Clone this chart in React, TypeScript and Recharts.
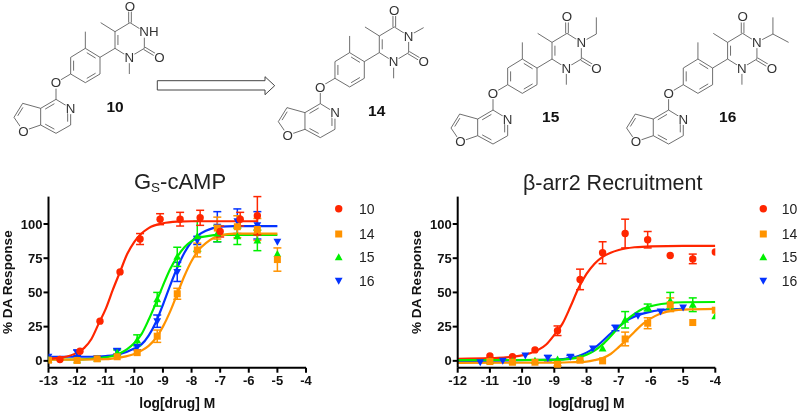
import React from "react";
import { ComposedChart, Line, Scatter, ErrorBar, XAxis, YAxis, Legend } from "recharts";

const FONT = "'Liberation Sans', Arial, sans-serif";
const RED = "#ff2600", ORANGE = "#ff9300", GREEN = "#00f000", BLUE = "#0433ff";

const seriesNames = ["10", "14", "15", "16"];
const yTicks = [0, 25, 50, 75, 100];
const leftXTicks = [-13, -12, -11, -10, -9, -8, -7, -6, -5, -4];
const rightXTicks = [-12, -11, -10, -9, -8, -7, -6, -5, -4];

// ---- Gs-cAMP: measured points
const gs10X = [-12.6, -11.9, -11.2, -10.5, -9.8, -9.1, -8.4, -7.7, -7.0, -6.3, -5.7];
const gs10Y = [1, 7, 29, 65, 89, 103.5, 103.5, 104.5, 94.5, 103.5, 106];
const gs10E = [null, null, null, null, 4, 4, 5, 5.5, 4, 5, 14];
const gsOtherX = [-13, -12, -11.3, -10.6, -9.9, -9.2, -8.5, -7.8, -7.1, -6.4, -5.7, -5];
const gs14Y = [0.5, 0.3, 1.5, 3, 6, 18, 49, 81, 97, 98, 96, 74];
const gs14E = [null, null, null, null, null, 4.5, 4, 5, 8, 8, 8, 8.5];
const gs15Y = [1, 0.5, 1.5, 6, 15, 45, 76, 91, 93, 91, 88, 78];
const gs15E = [null, null, null, 2, 4, 5, 7, 11, 6, 6, 7.5, null];
const gs16Y = [3, 6, 2, 7, 10, 29, 65, 88, 98, 102, 99, 87];
const gs16E = [null, 2, null, 2, 2, 4.5, 7, 3, 11, 9, 10, null];

// ---- Gs-cAMP: fitted curves
const gs10CurveX = [-13, -12.5, -12, -11.75, -11.5, -11.25, -11, -10.75, -10.5, -10.25, -10, -9.75, -9.5, -9, -8.5, -8, -5.7];
const gs10CurveY = [1.5, 2.5, 6, 9.5, 16, 27, 38, 52, 65, 78, 87, 93, 97, 100.5, 101.7, 102, 102];
const gs14CurveX = [-13, -11, -10.5, -10, -9.75, -9.5, -9.25, -9, -8.75, -8.5, -8.25, -8, -7.75, -7.5, -7.25, -7, -6.5, -5];
const gs14CurveY = [0.8, 1.2, 2.5, 5, 7.5, 11, 16.5, 25, 36, 49, 62, 73, 81, 86, 89.5, 91.5, 93, 93];
const gs15CurveX = [-13, -12, -11.5, -11, -10.75, -10.5, -10.25, -10, -9.75, -9.5, -9.25, -9, -8.75, -8.5, -8.25, -8, -7.75, -7.5, -7, -6, -5];
const gs15CurveY = [1, 1, 1.5, 2.5, 3.5, 5.5, 8.5, 13, 19.5, 30, 42, 55, 67, 76, 83, 87.5, 90, 91, 92, 92, 92];
const gs16CurveX = [-13, -11.5, -11, -10.5, -10, -9.75, -9.5, -9.25, -9, -8.75, -8.5, -8.25, -8, -7.75, -7.5, -7.25, -7, -6.5, -5];
const gs16CurveY = [3, 3, 3.5, 5, 9, 12, 18.5, 28, 41, 55, 68, 79, 87, 92, 95, 97, 98, 98.5, 98.5];

// ---- beta-arrestin: measured points
const arrPointX = [-11, -10.3, -9.6, -8.9, -8.2, -7.5, -6.8, -6.1, -5.4, -4.7, -4];
const arr10Y = [3.5, 3, 8, 22, 59.5, 79, 93, 88.5, 77, 74.5, 79.5];
const arr10E = [null, null, null, 3.5, 7.5, 8, 10.5, 6, null, 3.5, null];
const arr14Y = [-0.5, -1, -1, -2.5, 0.5, 0, 16, 27.5, 41, 28, 37];
const arr14E = [null, null, null, 1, null, null, 5, 4, 5, null, null];
const arr15Y = [0, -0.3, 0, 1, 2, 9, 30, 39, 44, 41, 32.5];
const arr15E = [null, null, null, null, null, null, 6, 2.5, 6, 5, null];
const arr16X = [-11.3, -10.6, -9.9, -9.2, -8.5, -7.8, -7.1, -6.4, -5.7, -5];
const arr16Y = [-1, 0, 4, 2, 3, 9, 24, 33, 36, 39];
const arr16E = [null, null, null, 2, 1, null, 2, null, null, null];

// ---- beta-arrestin: fitted curves
const arr10CurveX = [-12, -11, -10.5, -10, -9.75, -9.5, -9.25, -9, -8.75, -8.5, -8.25, -8, -7.75, -7.5, -7.25, -7, -6.5, -6, -5, -4];
const arr10CurveY = [1.5, 2, 2.5, 4, 5.5, 8, 12, 19, 27, 39.5, 53, 63.5, 71, 76, 79, 81, 83, 83.7, 84, 84];
const arr14CurveX = [-12, -9, -8.5, -8, -7.75, -7.5, -7.25, -7, -6.75, -6.5, -6.25, -6, -5.75, -5.5, -5, -4];
const arr14CurveY = [-1.5, -1.3, -1, -0.5, 0.5, 2, 5, 10, 15.5, 21.5, 27, 31, 34, 36, 37.5, 38];
const arr15CurveX = [-12, -9, -8.5, -8.25, -8, -7.75, -7.5, -7.25, -7, -6.75, -6.5, -6.25, -6, -5.5, -5, -4];
const arr15CurveY = [0.5, 0.7, 1.5, 2.5, 4.5, 7.5, 12, 18, 24.5, 30, 34.5, 38, 40, 42, 42.8, 43];
const arr16CurveX = [-12, -9, -8.5, -8.25, -8, -7.75, -7.5, -7.25, -7, -6.75, -6.5, -6.25, -6, -5.5, -5];
const arr16CurveY = [0, 1, 2, 3.5, 6, 9.5, 14.5, 20, 25, 29.5, 32.5, 34.5, 36, 37.5, 38];

const table = (xs: number[], ys: number[], es?: (number | null)[]) =>
  xs.map((x, i) => ({ x, y: ys[i], e: es && es[i] != null ? es[i] : undefined }));

const Marker = ({ cx, cy, kind, color, k = 1 }: any) => {
  if (kind === 0) return <circle cx={cx} cy={cy} r={3.7 * k} fill={color} />;
  if (kind === 1) return <rect x={cx - 3.5 * k} y={cy - 3.5 * k} width={7 * k} height={7 * k} fill={color} />;
  if (kind === 2) return <polygon points={`${cx},${cy - 4 * k} ${cx + 3.9 * k},${cy + 3 * k} ${cx - 3.9 * k},${cy + 3 * k}`} fill={color} />;
  return <polygon points={`${cx},${cy + 4 * k} ${cx + 3.9 * k},${cy - 3 * k} ${cx - 3.9 * k},${cy - 3 * k}`} fill={color} />;
};

const colors = [RED, ORANGE, GREEN, BLUE];
const rowY = [8.7, 34, 57.3, 80.7];

const LegendBox = ({ mx, tx }: { mx: number; tx: number }) => (
  <svg width={70} height={92} style={{ display: "block", overflow: "visible" }}>
    {seriesNames.map((n, i) => (
      <g key={n}>
        <Marker cx={mx} cy={rowY[i]} kind={i} color={colors[i]} />
        <text x={tx} y={rowY[i] + 5} fontFamily={FONT} fontSize={14} fill="#222">{n}</text>
      </g>
    ))}
  </svg>
);

type Ser = { key: string; kind: number; color: string; curve: any[]; pts: any[] };

const Dose = ({ left, axisX, right, domain, ticks, series, legendLeft, mx, tx, ml }: any) => {
  const tick = { fontFamily: FONT, fontWeight: 700, fontSize: 13, fill: "#111" };
  return (
    <div style={{ position: "absolute", left, top: 190 }}>
      <ComposedChart width={400} height={223} margin={{ top: 6.6, right, bottom: 0, left: 0 }}>
        <XAxis
          type="number" dataKey="x" domain={domain} ticks={ticks} height={45.3} interval={0}
          axisLine={{ stroke: "#000", strokeWidth: 2 }} tickLine={{ stroke: "#000", strokeWidth: 2 }}
          tickSize={5} tickMargin={3} tick={tick} allowDataOverflow
          label={{ value: "log[drug] M", position: "center", dy: 13, style: { fontFamily: FONT, fontWeight: 700, fontSize: 13.8, fill: "#111" } }}
        />
        <YAxis
          type="number" dataKey="y" domain={[-5, 120]} ticks={yTicks} width={axisX} interval={0}
          axisLine={{ stroke: "#000", strokeWidth: 2 }} tickLine={{ stroke: "#000", strokeWidth: 2 }}
          tickSize={5} tickMargin={1} tick={tick}
          label={{ value: "% DA Response", angle: -90, position: "center", dx: ml, style: { fontFamily: FONT, fontWeight: 700, fontSize: 13.6, fill: "#111", textAnchor: "middle" } }}
        />
        {series.map((s: Ser) => [
          <Line key={s.key + "l"} data={s.curve} dataKey="y" type="monotone" stroke={s.color} strokeWidth={2.2} dot={false} activeDot={false} isAnimationActive={false} legendType="none" />,
          <Scatter key={s.key + "p"} data={s.pts} isAnimationActive={false} legendType="none"
            shape={(p: any) => <Marker cx={p.cx} cy={p.cy} kind={s.kind} color={s.color} />}>
            <ErrorBar dataKey="e" direction="y" width={4} stroke={s.color} strokeWidth={1.5} isAnimationActive={false} />
          </Scatter>,
        ])}
        <Legend layout="vertical" align="center" verticalAlign="middle"
          wrapperStyle={{ left: legendLeft, top: 10, right: "auto", bottom: "auto", width: 70, height: 92 }}
          content={() => <LegendBox mx={mx} tx={tx} />} />
      </ComposedChart>
    </div>
  );
};

const gsSeries: Ser[] = [
  { key: "16", kind: 3, color: BLUE, curve: table(gs16CurveX, gs16CurveY), pts: table(gsOtherX, gs16Y, gs16E) },
  { key: "15", kind: 2, color: GREEN, curve: table(gs15CurveX, gs15CurveY), pts: table(gsOtherX, gs15Y, gs15E) },
  { key: "14", kind: 1, color: ORANGE, curve: table(gs14CurveX, gs14CurveY), pts: table(gsOtherX, gs14Y, gs14E) },
  { key: "10", kind: 0, color: RED, curve: table(gs10CurveX, gs10CurveY), pts: table(gs10X, gs10Y, gs10E) },
];
const arrSeries: Ser[] = [
  { key: "16", kind: 3, color: BLUE, curve: table(arr16CurveX, arr16CurveY), pts: table(arr16X, arr16Y, arr16E) },
  { key: "10", kind: 0, color: RED, curve: table(arr10CurveX, arr10CurveY), pts: table(arrPointX, arr10Y, arr10E) },
  { key: "15", kind: 2, color: GREEN, curve: table(arr15CurveX, arr15CurveY), pts: table(arrPointX, arr15Y, arr15E) },
  { key: "14", kind: 1, color: ORANGE, curve: table(arr14CurveX, arr14CurveY), pts: table(arrPointX, arr14Y, arr14E) },
];

// ---- chemical structures (scheme artwork, drawn at 3x and scaled down)
const P: Record<string, [number, number]> = {
  Me5: [302, 68], C5: [345, 95], C4: [390, 68], O4: [390, 18], N3: [433, 95], C2: [433, 145], O2: [478, 172],
  N1: [388, 172], C6: [345, 145], NMe: [388, 222], C1: [300, 172], C2p: [256, 145], Me2: [256, 95], C3p: [212, 172],
  C4p: [212, 222], C5p: [256, 248], C6p: [300, 222], Oe: [168, 248], C4f: [168, 298], Npy: [212, 325], Cp6: [212, 375],
  Cp7: [168, 400], C7a: [122, 375], C3a: [122, 325], C3f: [68, 310], C2f: [42, 352], Of: [70, 393],
};
const singles = [
  "Me5-C5", "C5-C4", "C4-N3", "N3-C2", "C2-N1", "N1-C6", "C5-C6", "N1-NMe", "C6-C1", "C1-C2p", "C2p-Me2", "C2p-C3p", "C3p-C4p",
  "C4p-C5p", "C5p-C6p", "C6p-C1", "C4p-Oe", "Oe-C4f", "C4f-Npy", "Npy-Cp6", "Cp6-Cp7", "Cp7-C7a", "C7a-C3a", "C3a-C4f",
  "C3a-C3f", "C3f-C2f", "C2f-Of", "Of-C7a",
];
const rings: [string, [number, number]][] = [
  ["C5-C6", [389, 120]], ["C1-C2p", [256, 197]], ["C3p-C4p", [256, 197]], ["C5p-C6p", [256, 197]],
  ["Npy-Cp6", [167, 350]], ["Cp7-C7a", [167, 350]], ["C3a-C4f", [167, 350]], ["C3f-C2f", [85, 350]],
];
const exo = ["C4-O4", "C2-O2"];
const atoms: [string, string][] = [["O4", "O"], ["O2", "O"], ["N1", "N"], ["Oe", "O"], ["Npy", "N"], ["Of", "O"]];
const STROKE = "#4a4a4a";

const Mol = ({ dx, dy, sub, name, nx, ny }: any) => {
  const seg = (k: string) => k.split("-").map((n) => P[n]);
  const N3: [number, number] = P.N3;
  return (
    <g>
      <g transform={`translate(${dx} ${dy}) scale(${1 / 3})`} stroke={STROKE} strokeWidth={2.4} fill="none">
        {singles.map((k) => { const [a, b] = seg(k); return <line key={k} x1={a[0]} y1={a[1]} x2={b[0]} y2={b[1]} />; })}
        {rings.map(([k, c]) => {
          const [a, b] = seg(k);
          const q = (p: [number, number], o: [number, number]) => {
            const mx = p[0] + (c[0] - p[0]) * 0.2, my = p[1] + (c[1] - p[1]) * 0.2;
            return [mx + (o[0] - p[0]) * 0.1, my + (o[1] - p[1]) * 0.1];
          };
          const s = q(a, b), e = q(b, a);
          return <line key={k + "d"} x1={s[0]} y1={s[1]} x2={e[0]} y2={e[1]} />;
        })}
        {exo.map((k) => {
          const [a, b] = seg(k);
          const l = Math.hypot(b[0] - a[0], b[1] - a[1]);
          const nx2 = ((b[1] - a[1]) / l) * 4, ny2 = (-(b[0] - a[0]) / l) * 4;
          return (
            <g key={k}>
              <line x1={a[0] + nx2} y1={a[1] + ny2} x2={b[0] + nx2} y2={b[1] + ny2} />
              <line x1={a[0] - nx2} y1={a[1] - ny2} x2={b[0] - nx2} y2={b[1] - ny2} />
            </g>
          );
        })}
        {sub.map((pts: number[][], i: number) => (
          <polyline key={i} points={pts.map((p) => `${N3[0] + p[0]},${N3[1] + p[1]}`).join(" ")} />
        ))}
        {[...atoms.map(([a]) => P[a]), N3].map((p, i) => <circle key={i} cx={p[0]} cy={p[1]} r={18} fill="#fff" stroke="none" />)}
        {atoms.map(([a, t], i) => (
          <text key={i} x={P[a][0]} y={P[a][1] + 14} textAnchor="middle" fontFamily={FONT} fontSize={40} fill="#333" stroke="none">{t}</text>
        ))}
        {sub.length === 0
          ? <text x={N3[0] - 15} y={N3[1] + 14} fontFamily={FONT} fontSize={40} fill="#333" stroke="none">NH</text>
          : <text x={N3[0]} y={N3[1] + 14} textAnchor="middle" fontFamily={FONT} fontSize={40} fill="#333" stroke="none">N</text>}
      </g>
      <text x={nx} y={ny} textAnchor="middle" fontFamily={FONT} fontWeight={700} fontSize={15.5} fill="#111">{name}</text>
    </g>
  );
};

const subMethyl = [[[0, 0], [45, -25]]];
const subEthyl = [[[0, 0], [45, -25], [45, -75]]];
const subIso = [[[0, 0], [48, -25], [95, 0]], [[48, -25], [48, -75]]];

export default function App() {
  return (
    <div style={{ position: "absolute", left: 0, top: 0, width: 800, height: 413, background: "#fff", overflow: "hidden", filter: "blur(0.4px)" }}>
      <svg width={800} height={413} style={{ position: "absolute", left: 0, top: 0 }}>
        <Mol dx={0} dy={0} sub={[]} name="10" nx={115} ny={112} />
        <Mol dx={264.3} dy={4.3} sub={subMethyl} name="14" nx={376.7} ny={115.5} />
        <Mol dx={437} dy={10.7} sub={subEthyl} name="15" nx={550.7} ny={122} />
        <Mol dx={612.6} dy={10.7} sub={subIso} name="16" nx={727.7} ny={122} />
        <polygon points="157.3,80.7 265,80.7 265,76.7 274.7,85.7 265,94.7 265,90 157.3,90" fill="#fff" stroke="#444" strokeWidth={1} />
        <text x={180} y={189} textAnchor="middle" fontFamily={FONT} fontSize={22} fill="#222">
          G<tspan fontSize={13.5} dy={3}>S</tspan><tspan dy={-3}>-cAMP</tspan>
        </text>
        <text x={612.7} y={190} textAnchor="middle" fontFamily={FONT} fontSize={21.5} fill="#222">β-arr2 Recruitment</text>
      </svg>
      <Dose left={0} axisX={48.5} right={94} domain={[-13, -4]} ticks={leftXTicks} series={gsSeries} legendLeft={330} mx={8.7} tx={29} ml={-17} />
      <Dose left={400} axisX={57.7} right={84.7} domain={[-12, -4]} ticks={rightXTicks} series={arrSeries} legendLeft={355} mx={8.3} tx={26.7} ml={-13} />
    </div>
  );
}
